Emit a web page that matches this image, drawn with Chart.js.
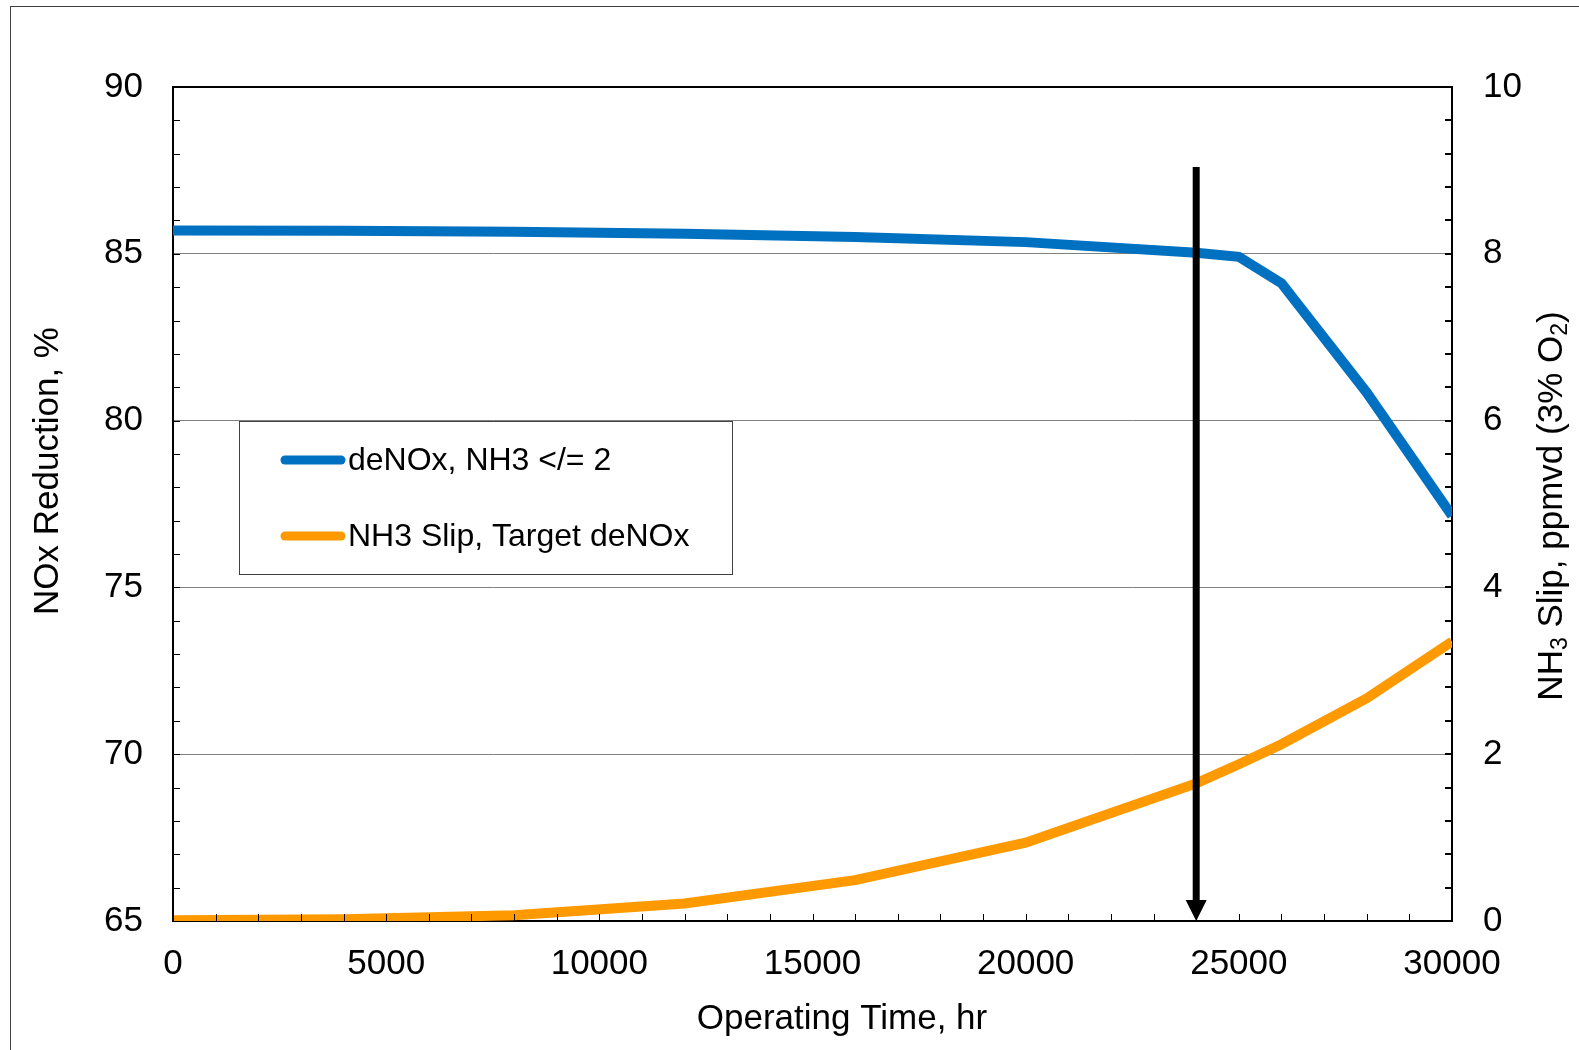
<!DOCTYPE html>
<html><head><meta charset="utf-8">
<script src="https://cdn.jsdelivr.net/npm/chart.js@4.4.1/dist/chart.umd.min.js"></script>
<style>html,body{margin:0;padding:0;background:#fff;overflow:hidden}#wrap{position:relative;width:1579px;height:1050px}</style>
</head><body><div id="wrap"><canvas id="c"></canvas></div>
<script>
// ---- data ----
const hours   = [0, 4000, 8000, 12000, 16000, 20000, 24000, 25000, 26000, 28000, 30000];
const deNOx   = [85.70, 85.69, 85.66, 85.60, 85.50, 85.35, 85.03, 84.91, 84.12, 80.84, 77.15];
const nh3Slip = [0.01, 0.02, 0.07, 0.21, 0.49, 0.94, 1.65, 1.88, 2.12, 2.67, 3.35];
const seriesNames = ['deNOx, NH3 </= 2', 'NH3 Slip, Target deNOx'];
const xTicks     = [0, 5000, 10000, 15000, 20000, 25000, 30000];
const leftTicks  = [65, 70, 75, 80, 85, 90];
const rightTicks = [0, 2, 4, 6, 8, 10];
const xMinorStep = 1000, leftMinorStep = 1, rightMinorStep = 0.4;
const arrowAtHours = 24000, arrowTopLeft = 87.6;
const xTitle = 'Operating Time, hr';
const yTitle = 'NOx Reduction, %';
const y2TitleParts = [['NH', false], ['3', true], [' Slip, ppmvd (3% O', false], ['2', true], [')', false]];

const FF = "'Liberation Sans', Arial, Helvetica, sans-serif";
const BLUE = '#0070C0', ORANGE = '#FF9900';

const decor = {
  id: 'decor',
  beforeDraw(chart) {
    const c = chart.ctx;
    c.save();
    c.fillStyle = '#fff';
    c.fillRect(0, 0, chart.width, chart.height);
    c.strokeStyle = '#404040'; c.lineWidth = 1;
    c.strokeRect(10.5, 6.5, chart.width + 20, chart.height + 20);
    c.restore();
  },
  afterDraw(chart) {
    const c = chart.ctx, a = chart.chartArea;
    const xs = chart.scales.x, ys = chart.scales.y, y2 = chart.scales.y2;
    c.save();
    // top frame
    c.strokeStyle = '#000'; c.lineWidth = 2;
    c.beginPath(); c.moveTo(a.left - 1, a.top); c.lineTo(a.right + 1, a.top); c.stroke();
    // minor ticks (inward)
    const TL = 7;
    c.lineWidth = 1; c.strokeStyle = '#000';
    c.beginPath();
    for (let v = ys.min; v <= ys.max + 1e-9; v += leftMinorStep) {
      const y = Math.round(ys.getPixelForValue(v)) + 0.5;
      c.moveTo(a.left, y); c.lineTo(a.left + TL, y);
    }
    for (let v = xs.min; v <= xs.max + 1e-9; v += xMinorStep) {
      const x = Math.round(xs.getPixelForValue(v)) + 0.5;
      c.moveTo(x, a.bottom); c.lineTo(x, a.bottom - TL);
    }
    c.stroke();
    c.lineWidth = 2;
    c.beginPath();
    for (let i = 0; i * rightMinorStep <= y2.max - y2.min + 1e-9; i++) {
      const v = y2.min + i * rightMinorStep;
      const y = Math.round(y2.getPixelForValue(v));
      c.moveTo(a.right, y); c.lineTo(a.right - TL, y);
    }
    c.stroke();
    // arrow
    const ax = xs.getPixelForValue(arrowAtHours);
    const aTop = ys.getPixelForValue(arrowTopLeft);
    const aTip = ys.getPixelForValue(ys.min);
    const head = 21;
    c.fillStyle = '#000'; c.strokeStyle = '#000'; c.lineWidth = 7;
    c.beginPath(); c.moveTo(ax, aTop); c.lineTo(ax, aTip - head + 2); c.stroke();
    c.beginPath(); c.moveTo(ax - head / 2, aTip - head); c.lineTo(ax + head / 2, aTip - head); c.lineTo(ax, aTip); c.closePath(); c.fill();
    // legend
    const lx = 239.5, ly = 421.5, lw = 493, lh = 153;
    c.fillStyle = '#fff'; c.fillRect(lx, ly, lw, lh);
    c.strokeStyle = '#404040'; c.lineWidth = 1; c.strokeRect(lx, ly, lw, lh);
    const rows = [460, 536];
    chart.data.datasets.forEach((ds, i) => {
      c.strokeStyle = ds.borderColor; c.lineWidth = 9; c.lineCap = 'round';
      c.beginPath(); c.moveTo(285, rows[i]); c.lineTo(341, rows[i]); c.stroke();
      c.fillStyle = '#000'; c.font = '32px ' + FF; c.textBaseline = 'middle'; c.textAlign = 'left';
      c.fillText(ds.label, 348, rows[i] + 1);
    });
    c.lineCap = 'butt';
    // titles
    c.fillStyle = '#000'; c.font = '35px ' + FF; c.textBaseline = 'middle'; c.textAlign = 'center';
    c.fillText(xTitle, 842, 1019);
    c.save(); c.translate(48, 471); c.rotate(-Math.PI / 2); c.fillText(yTitle, 0, 0); c.restore();
    // right title with subscripts
    c.save(); c.translate(1552, 506); c.rotate(-Math.PI / 2);
    c.textAlign = 'left';
    const big = '35px ' + FF, small = '23px ' + FF;
    let total = 0;
    y2TitleParts.forEach(([t, sub]) => { c.font = sub ? small : big; total += c.measureText(t).width; });
    let x = -total / 2;
    y2TitleParts.forEach(([t, sub]) => {
      c.font = sub ? small : big;
      c.fillText(t, x, sub ? 9 : 0);
      x += c.measureText(t).width;
    });
    c.restore();
    c.restore();
  }
};

const tickFont = { family: FF, size: 35 };
new Chart(document.getElementById('c'), {
  type: 'line',
  data: {
    datasets: [
      { label: seriesNames[0], data: hours.map((h, i) => ({ x: h, y: deNOx[i] })), yAxisID: 'y',
        borderColor: BLUE, backgroundColor: BLUE, borderWidth: 10, pointRadius: 0, tension: 0, clip: 0, fill: false },
      { label: seriesNames[1], data: hours.map((h, i) => ({ x: h, y: nh3Slip[i] })), yAxisID: 'y2',
        borderColor: ORANGE, backgroundColor: ORANGE, borderWidth: 10, pointRadius: 0, tension: 0, clip: 0, fill: false }
    ]
  },
  options: {
    responsive: true, maintainAspectRatio: false, animation: false,
    layout: { padding: { top: 87, left: 0, right: 0, bottom: 0 } },
    plugins: { legend: { display: false }, tooltip: { enabled: false } },
    scales: {
      x: { type: 'linear', position: 'bottom', min: 0, max: 30000,
        afterBuildTicks: s => { s.ticks = xTicks.map(v => ({ value: v })); },
        afterFit: s => { s.height = 129; },
        ticks: { font: tickFont, color: '#000', padding: 22, maxRotation: 0, autoSkip: false, callback: v => String(v) },
        grid: { drawOnChartArea: false, drawTicks: false },
        border: { color: '#000', width: 2 } },
      y: { type: 'linear', position: 'left', min: 65, max: 90,
        afterBuildTicks: s => { s.ticks = leftTicks.map(v => ({ value: v })); },
        afterFit: s => { s.width = 173; },
        ticks: { font: tickFont, color: '#000', padding: 30, callback: v => String(v) },
        grid: { color: ctx => (ctx.tick && (ctx.tick.value === 65 || ctx.tick.value === 90)) ? 'rgba(0,0,0,0)' : '#808080', lineWidth: 1, drawTicks: false },
        border: { color: '#000', width: 2 } },
      y2: { type: 'linear', position: 'right', min: 0, max: 10,
        afterBuildTicks: s => { s.ticks = rightTicks.map(v => ({ value: v })); },
        afterFit: s => { s.width = 127; },
        ticks: { font: tickFont, color: '#000', padding: 31, callback: v => String(v) },
        grid: { drawOnChartArea: false, drawTicks: false },
        border: { color: '#000', width: 2 } }
    }
  },
  plugins: [decor]
});
</script></body></html>
